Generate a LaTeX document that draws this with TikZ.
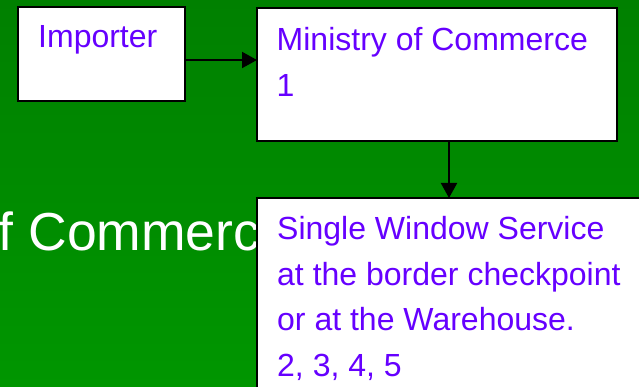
\documentclass[tikz,border=0pt]{standalone}
\usepackage{fontspec}
\setmainfont{Liberation Sans}
\usetikzlibrary{arrows.meta,calc}
\definecolor{bgtop}{RGB}{0,128,0}
\definecolor{bgbot}{RGB}{0,150,0}
\definecolor{boxtext}{RGB}{102,0,255}
\tikzset{
  flowbox/.style={draw=black, fill=white, line width=2pt, rectangle,
    inner sep=0pt, outer sep=0pt, anchor=north west},
  boxlabel/.style={text=boxtext, font=\fontsize{32}{45.5}\selectfont,
    align=left, inner sep=0pt, anchor=north west},
  flowarrow/.style={line width=2pt, -{Triangle[length=15pt,width=16pt]}},
}
\begin{document}
\begin{tikzpicture}[x=1pt,y=-1pt]
  \useasboundingbox (0,0) rectangle (639,387);
  \clip (0,0) rectangle (639,387);
  % slide background
  \shade[top color=bgtop, bottom color=bgbot] (0,0) rectangle (639,387);
  % slide title, partly covered by the boxes
  \node[text=white, font=\fontsize{53.5}{60}\selectfont, anchor=base west,
    inner sep=0pt] (title) at (-1.5,250) {f Commerc};

  % boxes
  \node[flowbox, minimum width=167pt, minimum height=94pt] (imp) at (18,7) {};
  \node[boxlabel] (impt) at ($(imp.north west)+(20,18.5)$) {Importer};

  \node[flowbox, minimum width=360pt, minimum height=133pt] (min) at (257,8) {};
  \node[boxlabel] (mint) at ($(min.north west)+(19.5,19.5)$) {Ministry of Commerce\\1};

  \node[flowbox, minimum width=400pt, minimum height=220pt] (sw) at (257,198) {};
  \node[boxlabel] (swt) at ($(sw.north west)+(20,18.5)$)
    {Single Window Service\\at the border checkpoint\\or at the Warehouse.\\2, 3, 4, 5};

  % connectors
  \coordinate (a1) at ([yshift=-6pt]imp.east);
  \draw[flowarrow] (a1) -- (a1 -| min.west);
  \coordinate (a2) at ([xshift=12pt]min.south);
  \draw[flowarrow] (a2) -- (a2 |- sw.north);
\end{tikzpicture}
\end{document}
